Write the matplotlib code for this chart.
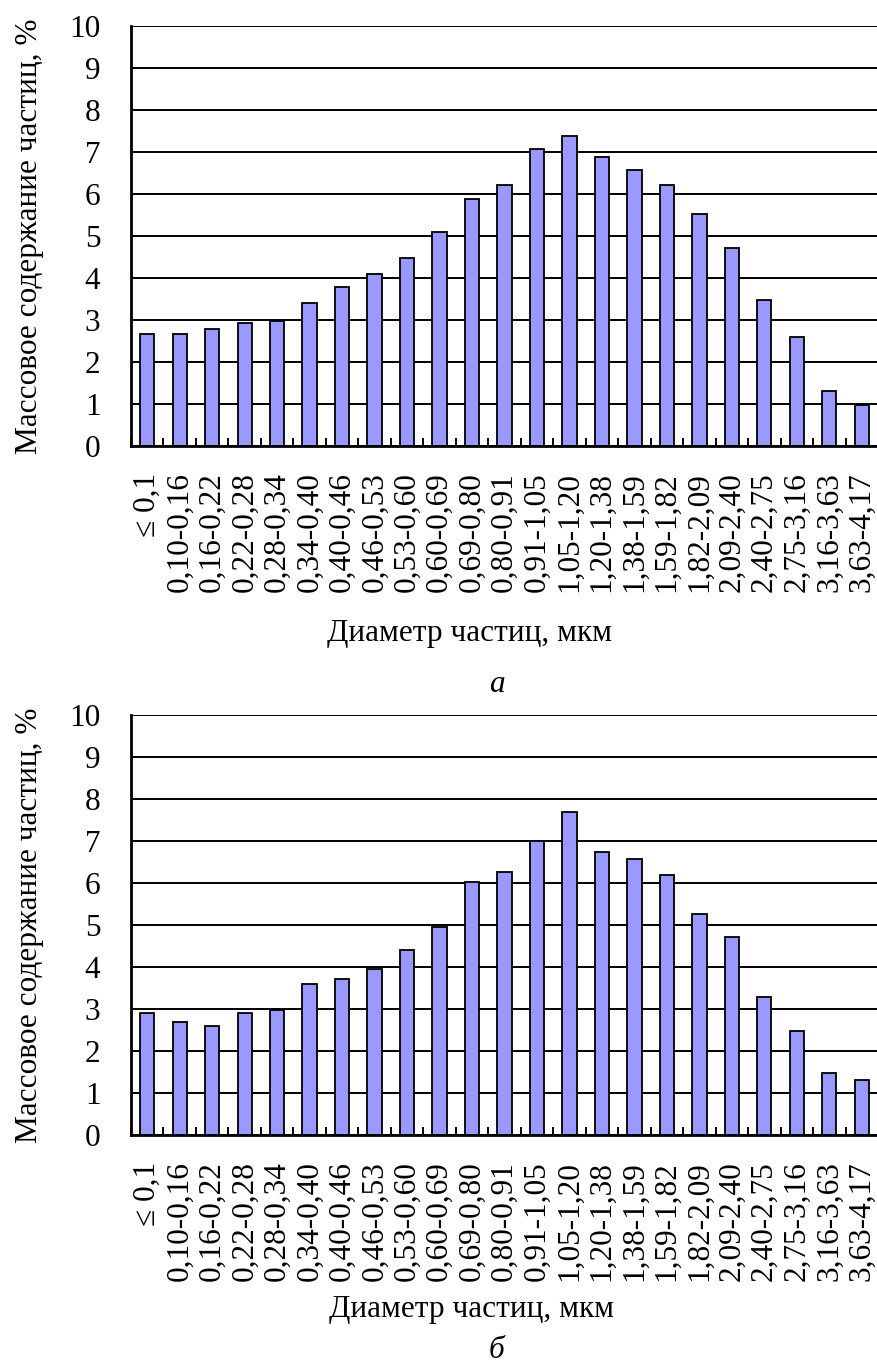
import matplotlib
matplotlib.use("Agg")
import matplotlib.pyplot as plt
from matplotlib.ticker import FixedLocator, NullFormatter

plt.rcParams["font.family"] = ["Liberation Serif", "DejaVu Serif"]

categories = ["≤ 0,1", "0,10-0,16", "0,16-0,22", "0,22-0,28", "0,28-0,34",
              "0,34-0,40", "0,40-0,46", "0,46-0,53", "0,53-0,60", "0,60-0,69",
              "0,69-0,80", "0,80-0,91", "0,91-1,05", "1,05-1,20", "1,20-1,38",
              "1,38-1,59", "1,59-1,82", "1,82-2,09", "2,09-2,40", "2,40-2,75",
              "2,75-3,16", "3,16-3,63", "3,63-4,17"]

# panel а
mass_a = [2.67, 2.67, 2.79, 2.92, 2.98, 3.41, 3.78, 4.09, 4.47, 5.09,
          5.89, 6.21, 7.08, 7.39, 6.89, 6.58, 6.21, 5.52, 4.72, 3.48,
          2.60, 1.30, 0.98]
# panel б
mass_b = [2.91, 2.68, 2.60, 2.91, 2.98, 3.60, 3.72, 3.96, 4.40, 4.96,
          6.02, 6.26, 6.99, 7.69, 6.75, 6.56, 6.20, 5.27, 4.71, 3.29,
          2.48, 1.47, 1.30]

W, H = 878, 1366
fig = plt.figure(figsize=(W / 100, H / 100), dpi=100)

FS = 22.5
BAR = "#9999FF"


def panel(rect, values):
    ax = fig.add_axes(rect)
    n = len(values)
    ax.bar(range(n), values, width=0.44, color=BAR, edgecolor="black", linewidth=1.3, zorder=3)
    ax.set_xlim(-0.5, n - 0.5)
    ax.set_ylim(0, 10)
    ax.set_yticks(range(0, 11))
    ax.yaxis.grid(True, color="black", linewidth=1.4, zorder=0)
    ax.set_axisbelow(True)
    ax.tick_params(axis="y", direction="in", length=0, pad=22, labelsize=FS)
    ax.set_xticks(range(n))
    ax.set_xticklabels(categories, rotation=90, fontsize=FS)
    ax.tick_params(axis="x", which="major", length=0, pad=19)
    ax.xaxis.set_minor_locator(FixedLocator([i + 0.5 for i in range(-1, n)]))
    ax.xaxis.set_minor_formatter(NullFormatter())
    ax.tick_params(axis="x", which="minor", direction="in", length=6, width=1.4, color="black")
    for s in ("left", "bottom"):
        ax.spines[s].set_linewidth(2.0)
        ax.spines[s].set_zorder(4)
    ax.spines["top"].set_visible(False)
    ax.spines["right"].set_color("#888888")
    ax.spines["right"].set_linewidth(1.0)
    ax.set_ylabel("Массовое содержание частиц, %", fontsize=FS, labelpad=18)
    return ax


panel([131 / W, 1 - 446 / H, 747 / W, 420 / H], mass_a)
panel([131 / W, 1 - 1135 / H, 747 / W, 420 / H], mass_b)

fig.text(470 / W, 1 - 633 / H, "Диаметр частиц, мкм", fontsize=FS, ha="center", va="center")
fig.text(497 / W, 1 - 684 / H, "а", fontsize=FS, style="italic", ha="center", va="center")
fig.text(472 / W, 1 - 1310 / H, "Диаметр частиц, мкм", fontsize=FS, ha="center", va="center")
fig.text(497 / W, 1 - 1350 / H, "б", fontsize=FS, style="italic", ha="center", va="center")

fig.savefig("out.png", dpi=100)
